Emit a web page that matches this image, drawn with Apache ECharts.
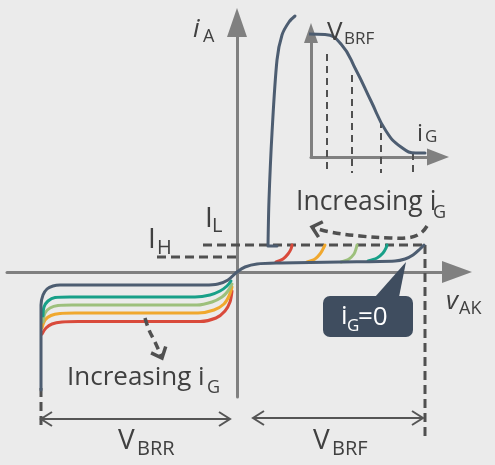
<!DOCTYPE html>
<html><head><meta charset="utf-8">
<script src="https://cdn.jsdelivr.net/npm/echarts@6/dist/echarts.min.js"></script>
<style>html,body{margin:0;padding:0;background:#ebebeb}#c{width:495px;height:465px}</style>
</head><body><div id="c"></div>
<script>
// ---------- DATA (arbitrary units, origin at the axis crossing) ----------
// forward/reverse characteristic for iG = 0
const curveIG0 = [[-196,-118],[-196,-58],[-196,-33],[-194,-23],[-190,-17],[-184,-14],[-177,-13],[-117,-13],[-32,-13],[-19,-12],[-9,-8],[0,0],[8,5],[20,8],[43,9],[103,10],[158,11],[168,13],[176,17],[183,23],[187,27]];
// on-state branch
const onState = [[40,26],[31,26],[32,72],[35,139],[40,212],[45,237],[52,250],[58,256]];
// reverse curves for increasing gate current
const revTeal   = [[-194,-44],[-193,-35],[-189,-29],[-182,-25.5],[-167,-25],[-42,-25],[-27,-23],[-17,-19],[-10,-14],[-6,-9]];
const revGreen  = [[-194,-50],[-192,-41],[-187,-36],[-179,-33.5],[-165,-33],[-40,-33],[-25,-30],[-15,-25],[-9,-19],[-5,-12]];
const revOrange = [[-195,-56],[-192,-48],[-186,-43.5],[-177,-41.5],[-162,-41],[-39,-41],[-23,-38],[-13,-32],[-8,-24],[-5,-15]];
const revRed    = [[-195,-62],[-191,-56],[-185,-52],[-175,-50],[-159,-49.5],[-37,-49.5],[-21,-46],[-12,-39],[-7,-30],[-5,-19]];
// forward breakover arcs for increasing gate current
const fwdRed    = [[39,10],[46,13],[51,18],[54,23],[55,27]];
const fwdOrange = [[70,10],[78,13],[83,18],[86,23],[88,27]];
const fwdGreen  = [[104,10],[112,13],[117,18],[119,23],[120,27]];
const fwdTeal   = [[131,11],[140,14],[146,19],[149,24],[150,27]];
// reference levels
const latchingIL = 27, holdingIH = 15, vbrf = 188, vbrr = -196;
const ilFrom = -34, ihFrom = -80, dimY = -147, dimBottom = -168;
// inset: V_BRF versus i_G
const insetCurve = [[-4,123],[14,122.5],[30,113],[45,87],[60,56],[75,26],[90,10],[105,4],[114,4]];
const insetIG = [16,41,70,102];
const insetVAtIG = [106,85,39,7];
// curved "Increasing iG" arrows
const arrowUpper = [[190,46],[184,39],[173,34.5],[153,34],[123,36],[93,40],[75,45]];
const arrowLower = [[-92,-46],[-88,-58],[-82,-70],[-75,-86]];

// ---------- CHART ----------
const chart = echarts.init(document.getElementById('c'), null, {renderer:'canvas'});
const FONT = "'Open Sans', 'Noto Sans', sans-serif";
const TXT = '#404040', DASH = '#505050', AX = '#808080', BLUE = '#4d5d71';
const C = {teal:'#18a088', green:'#9dc07c', orange:'#f0a82e', red:'#d94a3b'};

function lineS(data, color, opts) {
  return Object.assign({type:'line', data, symbol:'none', smooth:0.3, clip:false, silent:true, z:3,
    lineStyle:{color, width:3, cap:'round', join:'round'}, animation:false}, opts||{});
}
function dashS(data, opts) {
  return Object.assign({type:'line', data, symbol:'none', clip:false, silent:true, z:2,
    lineStyle:{color:DASH, width:3, type:[9,5]}, animation:false}, opts||{});
}
function axisCfg(min, max, size, gi) {
  return {type:'value', gridIndex:gi, min, max, axisLine:{show:true, onZero:true, symbol:['none','triangle'], symbolSize:size,
    lineStyle:{color:AX, width:3}}, axisTick:{show:false}, axisLabel:{show:false}, splitLine:{show:false}};
}
function chevron(tip, from, len, half) {
  const dx = tip[0]-from[0], dy = tip[1]-from[1], L = Math.hypot(dx,dy), ux = dx/L, uy = dy/L;
  const bx = tip[0]-ux*len, by = tip[1]-uy*len;
  return [[bx-uy*half, by+ux*half], tip, [bx+uy*half, by-ux*half]];
}
// text labels: [text, x, y, size, italic, color]
const labels = [
  ['i', -44, 242, 26, true], ['A', -34, 235, 18],
  ['I', -32, 53, 28], ['L', -25, 46, 20],
  ['I', -89, 32, 28], ['H', -80, 24, 20],
  ['v', 209, -30, 26, true], ['AK', 222, -37, 18],
  ['Increasing i', 59, 69.5, 26.5], ['G', 196, 59.5, 18],
  ['Increasing i', -170, -105.5, 26], ['G', -30, -116, 18],
  ['i', 104, -45, 26, false, '#fff'], ['G', 110, -54, 17, false, '#fff'], ['=0', 121, -45.5, 26, false, '#fff'],
  ['V', -119, -169, 28], ['BRR', -100, -177, 20],
  ['V', 76, -169, 28], ['BRF', 95, -177, 20]
];
const insetLabels = [
  ['V', 16, 124.5, 26], ['BRF', 33, 118, 17],
  ['i', 106, 23, 24], ['G', 114, 19.5, 17]
];
function textSeries(list, gi, z) {
  return {type:'custom', xAxisIndex:gi, yAxisIndex:gi, clip:false, silent:true, z:z||10, animation:false,
    data: list.map(l => [l[1], l[2]]),
    renderItem(params, api) {
      const l = list[params.dataIndex];
      const p = api.coord([api.value(0), api.value(1)]);
      return {type:'text', x:p[0], y:p[1], style:{text:l[0], fill:l[5]||TXT,
        font:(l[4]?'italic ':'') + l[3] + 'px ' + FONT, align:'left', verticalAlign:'middle',
        textAlign:'left', textVerticalAlign:'middle'}};
    }};
}

const option = {
  backgroundColor:'#ebebeb',
  animation:false,
  grid:[{left:7, right:38, top:22.5, bottom:68}, {left:311, right:57, top:33, bottom:308}],
  xAxis:[axisCfg(-230, 220, [22,30], 0), axisCfg(0, 127, [17,22], 1)],
  yAxis:[axisCfg(-125, 249.5, [20,29], 0), axisCfg(0, 124, [14,20], 1)],
  series:[
    dashS([[ilFrom, latchingIL],[vbrf, latchingIL]]),
    dashS([[ihFrom, holdingIH],[0, holdingIH]]),
    dashS([[vbrf, latchingIL],[vbrf, dimBottom]]),
    dashS([[vbrr, -116],[vbrr, -156]]),
    lineS(revRed, C.red), lineS(revOrange, C.orange), lineS(revGreen, C.green), lineS(revTeal, C.teal),
    lineS(fwdRed, C.red), lineS(fwdOrange, C.orange), lineS(fwdGreen, C.green), lineS(fwdTeal, C.teal),
    lineS(curveIG0, BLUE, {z:4}),
    lineS(onState, BLUE, {z:4}),
    // inset
    lineS(insetCurve, BLUE, {xAxisIndex:1, yAxisIndex:1, smooth:0.5}),
    {type:'custom', xAxisIndex:1, yAxisIndex:1, clip:false, silent:true, z:2, animation:false,
      data: insetIG.map((g,i)=>[g, insetVAtIG[i]]),
      renderItem(params, api){
        const top = api.coord([api.value(0), api.value(1)]);
        const bot = api.coord([api.value(0), -16]);
        return {type:'line', shape:{x1:top[0], y1:top[1]+3, x2:bot[0], y2:bot[1]},
          style:{stroke:DASH, lineWidth:2, lineDash:[7,5]}};
      }},
    // dimension arrows
    {type:'custom', clip:false, silent:true, z:5, animation:false,
      data:[[vbrr, -7, dimY],[16, 186, dimY+1]],
      renderItem(params, api){
        const a = api.coord([api.value(0), api.value(2)]), b = api.coord([api.value(1), api.value(2)]);
        const st = {stroke:'#555', lineWidth:2, fill:null};
        return {type:'group', children:[
          {type:'line', shape:{x1:a[0], y1:a[1], x2:b[0], y2:b[1]}, style:st},
          {type:'polyline', shape:{points:chevron(a, b, 11, 7)}, style:st},
          {type:'polyline', shape:{points:chevron(b, a, 11, 7)}, style:st}
        ]};
      }},
    // curved dashed arrows
    {type:'custom', clip:false, silent:true, z:5, animation:false,
      data:[[0],[1]],
      renderItem(params, api){
        const path = [arrowUpper, arrowLower][params.dataIndex].map(p => api.coord(p));
        const n = path.length;
        return {type:'group', children:[
          {type:'polyline', shape:{points:path, smooth:0.4}, style:{stroke:DASH, lineWidth:3.5, lineDash:[8,5], fill:null}},
          {type:'polyline', shape:{points:chevron(path[n-1], path[n-2], 9, 8)}, style:{stroke:DASH, lineWidth:3.5, fill:null, lineJoin:'miter'}}
        ]};
      }},
    // callout box
    {type:'custom', clip:false, silent:true, z:8, animation:false,
      data:[[86,-24,176,-65,169,10,138,162]],
      renderItem(params, api){
        const p0 = api.coord([api.value(0), api.value(1)]), p1 = api.coord([api.value(2), api.value(3)]);
        const tip = api.coord([api.value(4), api.value(5)]);
        const b1 = api.coord([api.value(6), api.value(1)-1]), b2 = api.coord([api.value(7), api.value(1)-1]);
        const fill = '#3f4d5f';
        return {type:'group', children:[
          {type:'rect', shape:{x:p0[0], y:p0[1], width:p1[0]-p0[0], height:p1[1]-p0[1], r:7}, style:{fill}},
          {type:'polygon', shape:{points:[tip, b2, b1]}, style:{fill}}
        ]};
      }},
    textSeries(labels, 0, 12),
    textSeries(insetLabels, 1, 12)
  ]
};
chart.setOption(option);
</script></body></html>
